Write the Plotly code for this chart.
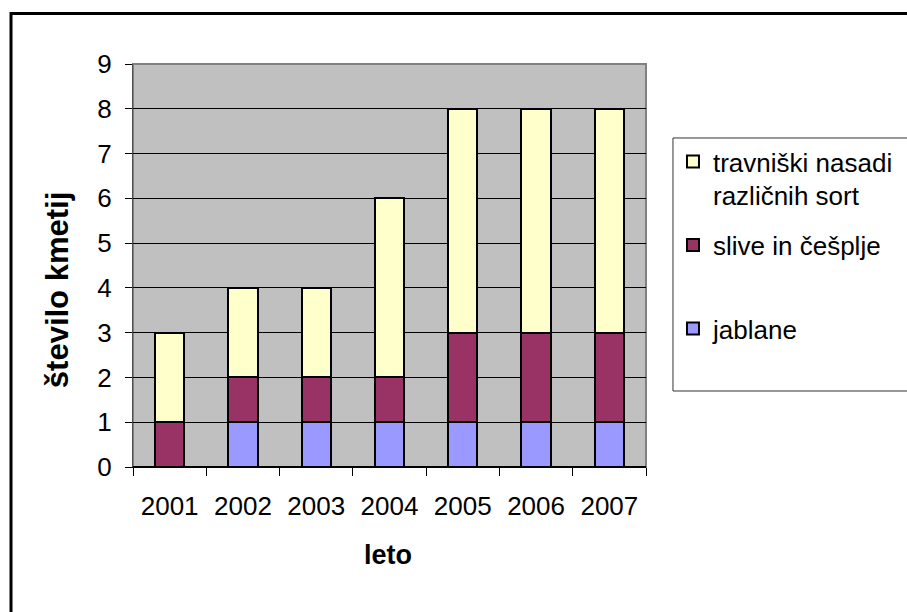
import plotly.graph_objects as go

# Farms per year by orchard type (stacked)
years = ["2001", "2002", "2003", "2004", "2005", "2006", "2007"]
jablane = [0, 1, 1, 1, 1, 1, 1]
slive = [1, 1, 1, 1, 2, 2, 2]
travniski = [2, 2, 2, 4, 5, 5, 5]

series_names = [
    "jablane<br> ",
    "slive in češplje<br> ",
    "travniški nasadi<br>različnih sort",
]
series_values = [jablane, slive, travniski]
series_colors = ["#9999FF", "#993366", "#FFFFCC"]
legend_ranks = [3, 2, 1]

y_ticks = [0, 1, 2, 3, 4, 5, 6, 7, 8, 9]

FONT = "Liberation Sans, Arial, sans-serif"

fig = go.Figure()
for i, (name, vals, col, rank) in enumerate(
        zip(series_names, series_values, series_colors, legend_ranks)):
    fig.add_trace(go.Bar(
        x=years, y=vals, name=name, legendgroup=f"g{i}", legendrank=rank,
        marker=dict(color=col, line=dict(color="black", width=2)),
    ))

fig.update_layout(
    width=907, height=612,
    margin=dict(l=133, r=261, t=64, b=145, autoexpand=False),
    barmode="stack", bargap=0.6,
    plot_bgcolor="#C0C0C0", paper_bgcolor="white",
    font=dict(family=FONT, size=26, color="black"),
    showlegend=True,
    legend=dict(
        x=1.0526, xanchor="left", y=0.8164, yanchor="top",
        traceorder="grouped", tracegroupgap=13,
        valign="top", borderwidth=0, bgcolor="rgba(0,0,0,0)",
        font=dict(family=FONT, size=26, color="black"),
    ),
    xaxis=dict(
        type="category", tickson="boundaries", ticks="outside", ticklen=8,
        tickcolor="black", showgrid=False, showline=True, linecolor="black",
        linewidth=1, ticklabelstandoff=16,
        tickfont=dict(family=FONT, size=26),
    ),
    yaxis=dict(
        range=[0, 9], tickvals=y_ticks, ticks="outside", ticklen=7,
        tickcolor="black", showgrid=True, gridcolor="black", gridwidth=1,
        zeroline=True, zerolinecolor="black", showline=True,
        linecolor="#505050", linewidth=1, ticklabelstandoff=8,
        tickfont=dict(family=FONT, size=26),
    ),
    shapes=[
        # plot area border
        dict(type="rect", xref="paper", yref="paper", x0=0, x1=1, y0=0, y1=1,
             line=dict(color="#808080", width=2), layer="below"),
        # chart frame
        dict(type="rect", xref="paper", yref="paper", x0=-0.2378, x1=1.8,
             y0=-0.6, y1=1.1254, line=dict(color="black", width=3)),
        # legend box, running past the right edge of the frame
        dict(type="rect", xref="paper", yref="paper", x0=1.0526, x1=1.8,
             y0=0.1886, y1=0.8164, line=dict(color="#333333", width=1),
             fillcolor="white"),
    ],
    annotations=[
        dict(text="<b>število kmetij</b>", xref="paper", yref="paper",
             x=-0.148, y=0.439, textangle=-90, showarrow=False,
             xanchor="center", yanchor="middle",
             font=dict(family=FONT, size=31, color="black")),
        dict(text="<b>leto</b>", xref="paper", yref="paper",
             x=0.497, y=-0.218, showarrow=False,
             xanchor="center", yanchor="middle",
             font=dict(family=FONT, size=27, color="black")),
    ],
)

fig.write_html("out.html")
